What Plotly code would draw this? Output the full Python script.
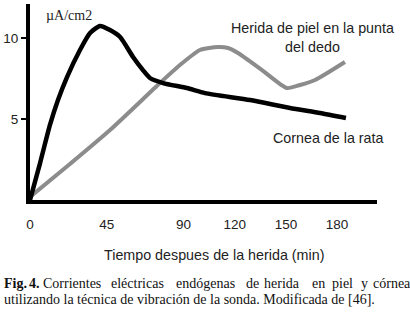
import plotly.graph_objects as go

# Data (time in min, current in µA/cm2)
cornea_t = [0, 5.9, 11.7, 16.4, 21.7, 29.3, 35.2, 41.0, 46.9, 52.8, 60.4, 66.2, 70.3, 78.0, 92.0, 102.6, 129.0, 152.4, 170.0, 185.2]
cornea_i = [0, 2.28, 4.63, 6.17, 7.59, 9.26, 10.31, 10.74, 10.49, 10.06, 8.83, 8.02, 7.53, 7.22, 6.91, 6.60, 6.17, 5.68, 5.37, 5.06]

piel_t = [0, 23.4, 46.9, 76.2, 87.9, 99.6, 110.2, 116.1, 121.9, 136.0, 150.6, 158.3, 167.1, 184.6]
piel_i = [0.19, 2.22, 4.32, 7.22, 8.33, 9.26, 9.44, 9.38, 9.07, 8.02, 6.91, 7.10, 7.41, 8.52]

x_ticks = [0, 45, 90, 120, 150, 180]
y_ticks = [5, 10]

label_piel = "Herida de piel en la punta<br>del dedo"
label_cornea = "Cornea de la rata"
y_unit = "µA/cm2"
x_title = "Tiempo despues de la herida (min)"
caption_line1 = ["<b>Fig.</b>", "<b>4.</b>", "Corrientes", "eléctricas", "endógenas", "de", "herida", "en", "piel", "y", "córnea"]
caption_line2 = "utilizando la técnica de vibración de la sonda. Modificada de [46]."

W, H = 410, 313
L, R, T, B = 30, 33, 4, 113
PW, PH = W - L - R, H - T - B


def px(x):
    return (x - L) / PW


def py(y):
    return (T + PH - y) / PH


SANS = "Liberation Sans, Arial, sans-serif"
SERIF = "Liberation Serif, Times New Roman, serif"

fig = go.Figure()
fig.add_trace(go.Scatter(x=piel_t, y=piel_i, mode="lines",
                         line=dict(color="#8c8c8c", width=4, shape="spline", smoothing=0.6),
                         hoverinfo="skip", showlegend=False))
fig.add_trace(go.Scatter(x=cornea_t, y=cornea_i, mode="lines",
                         line=dict(color="#000000", width=4.5, shape="spline", smoothing=0.6),
                         hoverinfo="skip", showlegend=False))

annotations = [
    dict(text=y_unit, x=px(45), y=py(16), xanchor="left", yanchor="middle",
         font=dict(family=SERIF, size=14, color="#222")),
    dict(text=label_piel, x=px(312), y=py(38), xanchor="center", yanchor="middle",
         font=dict(family=SANS, size=14.3, color="#222")),
    dict(text=label_cornea, x=px(328), y=py(138), xanchor="center", yanchor="middle",
         font=dict(family=SANS, size=14.3, color="#222")),
    dict(text=x_title, x=px(214), y=py(255), xanchor="center", yanchor="middle",
         font=dict(family=SANS, size=14.3, color="#222")),
    dict(text=caption_line2, x=px(3), y=py(299), xanchor="left", yanchor="middle",
         font=dict(family=SERIF, size=14, color="#111")),
]
word_left = [3, 28, 42, 110, 175, 245, 263, 311, 331, 360, 372]
for w, xl in zip(caption_line1, word_left):
    annotations.append(dict(text=w, x=px(xl), y=py(283), xanchor="left", yanchor="middle",
                            font=dict(family=SERIF, size=14, color="#111")))
for a in annotations:
    a.update(xref="paper", yref="paper", showarrow=False, borderpad=0)

fig.update_layout(
    width=W, height=H,
    margin=dict(l=L, r=R, t=T, b=B),
    paper_bgcolor="white", plot_bgcolor="white",
    showlegend=False,
    annotations=annotations,
    xaxis=dict(range=[0, PW / 1.706], tickvals=x_ticks, ticktext=[str(v) for v in x_ticks],
               showline=True, linecolor="black", linewidth=4, showgrid=False, zeroline=False,
               ticks="outside", ticklen=9, tickcolor="rgba(0,0,0,0)",
               tickfont=dict(family=SANS, size=13.5, color="#222")),
    yaxis=dict(range=[0, PH / 16.2], tickvals=y_ticks, ticktext=[str(v) for v in y_ticks],
               showline=True, linecolor="black", linewidth=4, showgrid=False, zeroline=False,
               ticks="outside", ticklen=5, tickwidth=2, tickcolor="black",
               tickfont=dict(family=SANS, size=13.5, color="#222")),
)

fig.write_html("out.html",
               config={"displayModeBar": False},
               post_script="document.body.style.margin='0';document.body.style.padding='0';"
                           "document.documentElement.style.overflow='hidden';")
